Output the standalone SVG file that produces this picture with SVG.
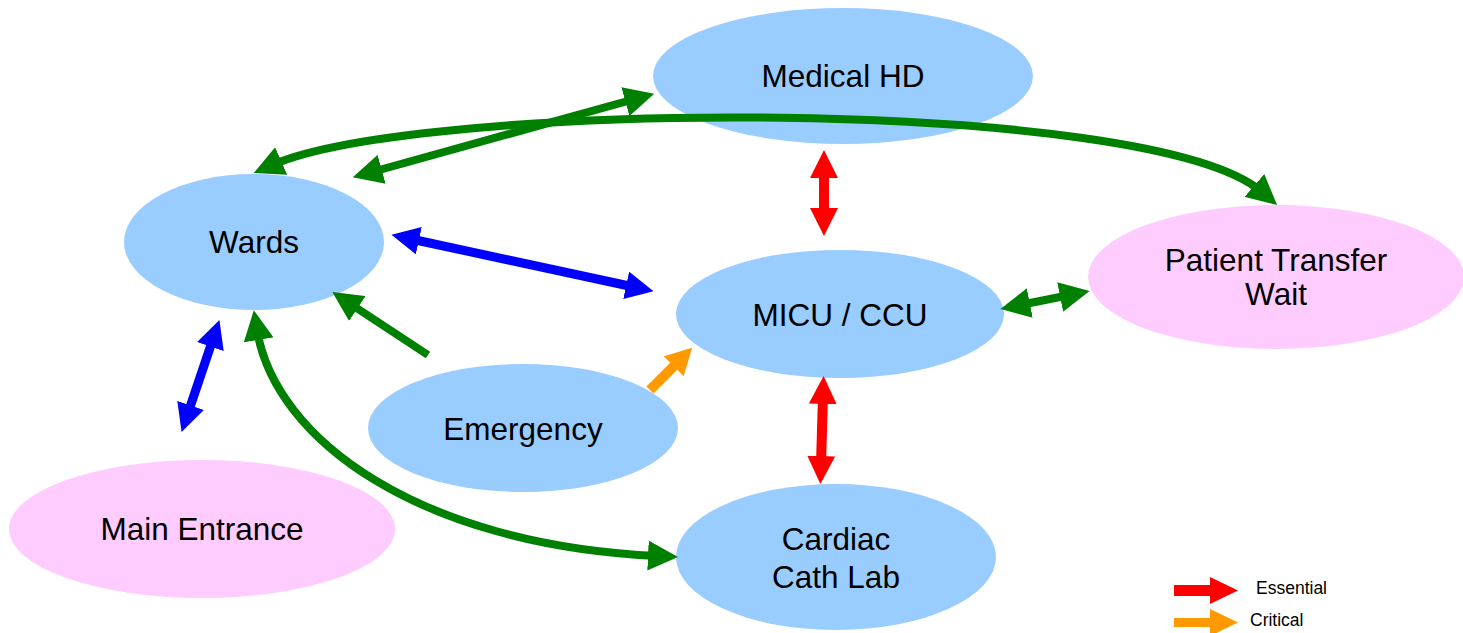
<svg xmlns="http://www.w3.org/2000/svg" width="1463" height="633" viewBox="0 0 1463 633">
  <style>
    .blue { fill: #99CCFF; }
    .pink { fill: #FFCCFF; }
    .label { font-family: "Liberation Sans", Arial, sans-serif; font-size: 31.5px; fill: #000; text-anchor: middle; }
    .legend { font-family: "Liberation Sans", Arial, sans-serif; font-size: 17.5px; fill: #000; }
    .conn { fill: none; }
    .g { stroke: #008000; stroke-width: 8; }
    .r { stroke: #FF0000; stroke-width: 10; }
    .b { stroke: #0000FF; stroke-width: 9; }
    .o { stroke: #FF9900; stroke-width: 10; }
  </style>
  <defs>
    <!-- arrowheads: tip sits 20 units beyond the path end -->
    <marker id="hg" viewBox="0 0 30 30" markerUnits="userSpaceOnUse" markerWidth="30" markerHeight="30" refX="10" refY="15" orient="auto-start-reverse">
      <path d="M0,0 L30,15 L0,30 z" fill="#008000"/>
    </marker>
    <marker id="hr" viewBox="0 0 28 28" markerUnits="userSpaceOnUse" markerWidth="28" markerHeight="28" refX="8" refY="14" orient="auto-start-reverse">
      <path d="M0,0 L28,14 L0,28 z" fill="#FF0000"/>
    </marker>
    <marker id="hb" viewBox="0 0 28 28" markerUnits="userSpaceOnUse" markerWidth="28" markerHeight="28" refX="8" refY="14" orient="auto-start-reverse">
      <path d="M0,0 L28,14 L0,28 z" fill="#0000FF"/>
    </marker>
    <marker id="ho" viewBox="0 0 26 28" markerUnits="userSpaceOnUse" markerWidth="26" markerHeight="28" refX="6" refY="14" orient="auto-start-reverse">
      <path d="M0,0 L26,14 L0,28 z" fill="#FF9900"/>
    </marker>
  </defs>

  <g id="node-medical-hd">
    <ellipse class="blue" cx="843" cy="76" rx="190" ry="68"/>
    <text class="label" x="843" y="87">Medical HD</text>
  </g>
  <g id="node-wards">
    <ellipse class="blue" cx="254" cy="242" rx="130" ry="68"/>
    <text class="label" x="254" y="253">Wards</text>
  </g>
  <g id="node-patient-transfer-wait">
    <ellipse class="pink" cx="1276" cy="277" rx="188" ry="72"/>
    <text class="label" x="1276" y="271">Patient Transfer</text>
    <text class="label" x="1276" y="305">Wait</text>
  </g>
  <g id="node-micu-ccu">
    <ellipse class="blue" cx="840" cy="314" rx="164" ry="64"/>
    <text class="label" x="840" y="326">MICU / CCU</text>
  </g>
  <g id="node-emergency">
    <ellipse class="blue" cx="523" cy="428" rx="155" ry="64"/>
    <text class="label" x="523" y="440">Emergency</text>
  </g>
  <g id="node-main-entrance">
    <ellipse class="pink" cx="202" cy="529" rx="193" ry="69"/>
    <text class="label" x="202" y="540">Main Entrance</text>
  </g>
  <g id="node-cardiac-cath-lab">
    <ellipse class="blue" cx="836" cy="557" rx="160" ry="73"/>
    <text class="label" x="836" y="550">Cardiac</text>
    <text class="label" x="836" y="588">Cath Lab</text>
  </g>

  <g id="connectors" class="conn">
    <!-- Wards <-> Patient Transfer Wait (long arc over the top) -->
    <path class="g" d="M272,165 C420,100 1150,95 1262,192" marker-start="url(#hg)" marker-end="url(#hg)"/>
    <!-- Wards <-> Medical HD -->
    <path class="g" d="M372,172 L635,99" marker-start="url(#hg)" marker-end="url(#hg)"/>
    <!-- Medical HD <-> MICU / CCU -->
    <path class="r" d="M824,170 L824,216" marker-start="url(#hr)" marker-end="url(#hr)"/>
    <!-- Wards <-> MICU / CCU -->
    <path class="b" d="M411,239 L634,287" marker-start="url(#hb)" marker-end="url(#hb)"/>
    <!-- MICU / CCU <-> Patient Transfer Wait -->
    <path class="g" d="M1020,305 L1070,295" marker-start="url(#hg)" marker-end="url(#hg)"/>
    <!-- Emergency -> Wards -->
    <path class="g" d="M428,355 L349,303" marker-end="url(#hg)"/>
    <!-- Emergency -> MICU / CCU -->
    <path class="o" d="M650,390 L678,362" marker-end="url(#ho)"/>
    <!-- MICU / CCU <-> Cardiac Cath Lab -->
    <path class="r" d="M823,396 L821,464" marker-start="url(#hr)" marker-end="url(#hr)"/>
    <!-- Wards <-> Main Entrance -->
    <path class="b" d="M213,339 L188,413" marker-start="url(#hb)" marker-end="url(#hb)"/>
    <!-- Wards <-> Cardiac Cath Lab (lower arc) -->
    <path class="g" d="M257,330 C275,440 420,545 658,556" marker-start="url(#hg)" marker-end="url(#hg)"/>
  </g>

  <g id="legend">
    <path d="M1174,585 L1210,585 L1210,577 L1238,590.5 L1210,604 L1210,596 L1174,596 z" fill="#FF0000"/>
    <text class="legend" x="1256" y="594">Essential</text>
    <path d="M1174,618 L1210,618 L1210,609 L1238,622.5 L1210,636 L1210,627 L1174,627 z" fill="#FF9900"/>
    <text class="legend" x="1250" y="626">Critical</text>
  </g>
</svg>
